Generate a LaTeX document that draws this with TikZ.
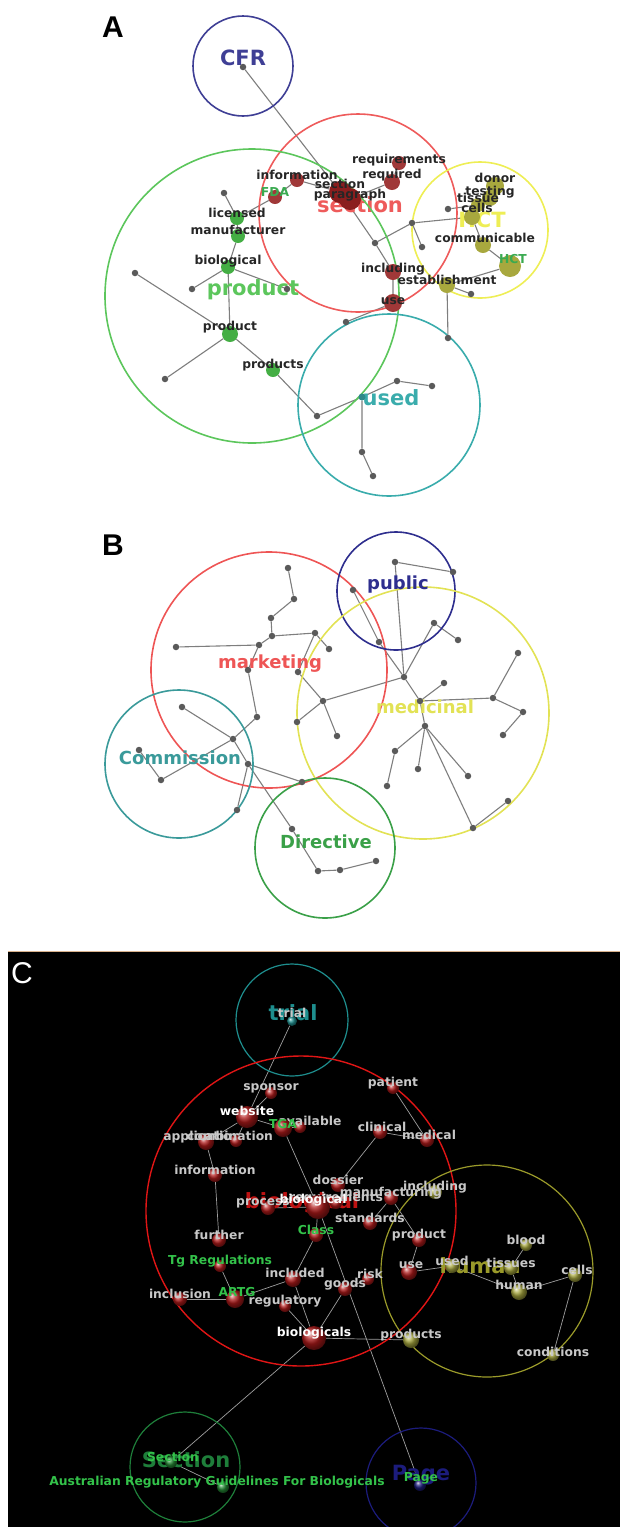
\documentclass[tikz,border=0pt]{standalone}
\usepackage{fontspec}
\setmainfont{DejaVu Sans}
\newfontfamily\panelfont{Liberation Sans}
\definecolor{cfrblue}{HTML}{3F3F95}
\definecolor{secred}{HTML}{EE5B5B}
\definecolor{prodgreen}{HTML}{5CC65C}
\definecolor{hctyellow}{HTML}{EEEE55}
\definecolor{usedteal}{HTML}{3AACAC}
\definecolor{dotgray}{HTML}{5A5A5A}
\definecolor{edgegray}{HTML}{7E7E7E}
\definecolor{ballred}{HTML}{A03838}
\definecolor{balldark}{HTML}{8A1E1E}
\definecolor{ballgreen}{HTML}{44AE44}
\definecolor{ballolive}{HTML}{A8A83E}
\definecolor{txtdark}{HTML}{262626}
\definecolor{fdagreen}{HTML}{3AAA50}
\definecolor{mktred}{HTML}{EE5555}
\definecolor{pubblue}{HTML}{2E2E8E}
\definecolor{medyellow}{HTML}{E2E255}
\definecolor{comteal}{HTML}{3A9A9A}
\definecolor{dirgreen}{HTML}{3AA048}
\definecolor{trialteal}{HTML}{1E8E8E}
\definecolor{biored}{HTML}{E01515}
\definecolor{humolive}{HTML}{9A9A2A}
\definecolor{secgreen}{HTML}{1E7E3A}
\definecolor{pageblue}{HTML}{1C1C7C}
\definecolor{ltgray}{HTML}{C8C8C8}
\definecolor{cgreen}{HTML}{33C24A}
\definecolor{cred}{HTML}{B01A1A}
\pgfdeclarelayer{back}
\pgfdeclarelayer{edges}
\pgfsetlayers{back,edges,main}
\begin{document}
\begin{tikzpicture}[x=1pt,y=-1pt,
  hoop/.style={circle,draw,line width=1.6pt,inner sep=0,minimum size=#1},
  gdot/.style={circle,fill=dotgray,inner sep=0,minimum size=6.5},
  blob/.style={circle,inner sep=0,minimum size=#1},
  link/.style={draw=edgegray,line width=1.1pt},
  linkc/.style={draw=gray!75,line width=0.7pt},
  lab/.style={font=\bfseries\fontsize{12.3}{13}\selectfont,text=txtdark,inner sep=0,yshift=5pt},
  labc/.style={lab,text=ltgray},
  labw/.style={lab,text=white},
  labg/.style={lab,text=cgreen},
  clus/.style={font=\bfseries\fontsize{21}{22}\selectfont,inner sep=0},
  clusb/.style={font=\bfseries\fontsize{18}{19}\selectfont,inner sep=0},
  panel/.style={font=\panelfont\bfseries\fontsize{30}{30}\selectfont,inner sep=0}]
\useasboundingbox (0,0) rectangle (620,1527);

% A
\node[panel] (pa) at (113,27) {A};
\node[hoop=100,draw=cfrblue] (cfrR) at (243,66) {};
\node[clus,text=cfrblue] (cfrL) at (243,58) {CFR};
\node[hoop=198,draw=secred] (secR) at (358,213) {};
\node[clus,text=secred] (secL) at (360,205) {section};
\node[hoop=294,draw=prodgreen] (prodR) at (252,296) {};
\node[clus,text=prodgreen] (prodL) at (253,290) {product};
\node[hoop=136,draw=hctyellow] (hctR) at (480,230) {};
\node[clus,text=hctyellow] (hctL) at (482,220) {HCT};
\node[hoop=182,draw=usedteal] (usedR) at (389,405) {};
\node[clus,text=usedteal] (usedL) at (391,398) {used};

\node[gdot] (cfr) at (243,67) {};
\node[gdot] (a1) at (224,193) {};
\node[gdot] (a2) at (135,273) {};
\node[gdot] (a3) at (192,289) {};
\node[gdot] (a4) at (287,289) {};
\node[gdot] (a5) at (165,379) {};
\node[gdot] (a6) at (317,416) {};
\node[gdot] (a7) at (397,381) {};
\node[gdot] (a8) at (432,386) {};
\node[gdot] (a9) at (362,452) {};
\node[gdot] (a10) at (373,476) {};
\node[gdot] (a11) at (375,243) {};
\node[gdot] (a12) at (346,322) {};
\node[gdot] (a13) at (412,223) {};
\node[gdot] (a14) at (422,247) {};
\node[gdot] (a15) at (448,209) {};
\node[gdot] (a16) at (471,294) {};
\node[gdot] (a17) at (448,338) {};
\node[blob=7,fill=usedteal!80!black] (usedn) at (362,397) {};

\node[blob=14,fill=ballred,label={[lab]center:information}] (info) at (297,180) {};
\node[blob=14,fill=ballred,label={[lab,text=fdagreen]center:FDA}] (fda) at (275,197) {};
\node[blob=22,fill=balldark,label={[lab,yshift=3pt]center:section}] (sect) at (340,192) {};
\node[blob=22,fill=balldark,label={[lab,yshift=-1pt]center:paragraph}] (para) at (350,199) {};
\node[blob=14,fill=ballred,label={[lab,yshift=-2pt]center:requirements}] (reqs) at (399,163) {};
\node[blob=16,fill=ballred,label={[lab,yshift=2pt]center:required}] (reqd) at (392,182) {};
\node[blob=14,fill=ballgreen,label={[lab]center:licensed}] (lic) at (237,218) {};
\node[blob=14,fill=ballgreen,label={[lab,yshift=1pt]center:manufacturer}] (man) at (238,236) {};
\node[blob=14,fill=ballgreen,label={[lab,yshift=1pt]center:biological}] (bio) at (228,267) {};
\node[blob=16,fill=ballgreen,label={[lab,yshift=2pt]center:product}] (prod) at (230,334) {};
\node[blob=14,fill=ballgreen,label={[lab]center:products}] (prods) at (273,370) {};
\node[blob=16,fill=ballred,label={[lab,yshift=-2pt]center:including}] (incl) at (393,272) {};
\node[blob=18,fill=ballred,label={[lab,yshift=-3pt]center:use}] (use) at (393,303) {};
\node[blob=18,fill=ballolive,label={[lab,yshift=3pt]center:donor}] (donor) at (495,186) {};
\node[blob=16,fill=ballolive,label={[lab,yshift=1pt]center:testing}] (test) at (490,198) {};
\node[blob=14,fill=ballolive,label={[lab,yshift=2pt]center:tissue}] (tis) at (478,205) {};
\node[blob=16,fill=ballolive,label={[lab,xshift=5pt,yshift=4pt]center:cells}] (cells) at (472,217) {};
\node[blob=16,fill=ballolive,label={[lab,xshift=2pt,yshift=2pt]center:communicable}] (comm) at (483,245) {};
\node[blob=22,fill=ballolive,label={[lab,text=fdagreen,xshift=3pt,yshift=2pt]center:HCT}] (hct) at (510,266) {};
\node[blob=16,fill=ballolive,label={[lab]center:establishment}] (estab) at (447,285) {};

\begin{pgfonlayer}{edges}
\draw[link] (cfr) -- (sect) -- (a11) -- (incl) -- (use) -- (a12);
\draw[link] (info) -- (sect) -- (para);
\draw[link] (info) -- (fda) -- (lic);
\draw[link] (a1) -- (lic) -- (man) -- (bio) -- (prod);
\draw[link] (bio) -- (a3);
\draw[link] (bio) -- (a4);
\draw[link] (a2) -- (prod) -- (a5);
\draw[link] (prod) -- (prods) -- (a6) -- (usedn) -- (a7) -- (a8);
\draw[link] (usedn) -- (a9) -- (a10);
\draw[link] (para) -- (reqd) -- (reqs);
\draw[link] (a11) -- (a13) -- (a14);
\draw[link] (a13) -- (cells);
\draw[link] (a15) -- (tis);
\draw[link] (donor) -- (test) -- (tis) -- (cells) -- (comm) -- (hct) -- (estab) -- (a16);
\draw[link] (estab) -- (a17);
\end{pgfonlayer}

% B
\node[panel] (pb) at (113,545) {B};
\node[hoop=236,draw=mktred] (mktR) at (269,670) {};
\node[hoop=118,draw=pubblue] (pubR) at (396,591) {};
\node[hoop=252,draw=medyellow] (medR) at (423,713) {};
\node[hoop=148,draw=comteal] (comR) at (179,764) {};
\node[hoop=140,draw=dirgreen] (dirR) at (325,848) {};
\node[clusb,text=mktred] (mktL) at (270,664) {marketing};
\node[clusb,text=pubblue] (pubL) at (398,585) {public};
\node[clusb,text=medyellow] (medL) at (425,707) {medicinal};
\node[clusb,text=comteal] (comL) at (180,758) {Commission};
\node[clusb,text=dirgreen] (dirL) at (326,842) {Directive};

\node[gdot] (b1) at (288,568) {};
\node[gdot] (b2) at (294,599) {};
\node[gdot] (b3) at (271,618) {};
\node[gdot] (b4) at (272,636) {};
\node[gdot] (b5) at (315,633) {};
\node[gdot] (b6) at (329,649) {};
\node[gdot] (b7) at (259,645) {};
\node[gdot] (b8) at (176,647) {};
\node[gdot] (b9) at (248,670) {};
\node[gdot] (b10) at (298,672) {};
\node[gdot] (b11) at (323,701) {};
\node[gdot] (b12) at (297,722) {};
\node[gdot] (b13) at (337,736) {};
\node[gdot] (b14) at (257,717) {};
\node[gdot] (b15) at (233,739) {};
\node[gdot] (b16) at (182,707) {};
\node[gdot] (b17) at (139,750) {};
\node[gdot] (b18) at (161,780) {};
\node[gdot] (b19) at (248,764) {};
\node[gdot] (b20) at (237,810) {};
\node[gdot] (b21) at (302,782) {};
\node[gdot] (b22) at (292,829) {};
\node[gdot] (b23) at (318,871) {};
\node[gdot] (b24) at (340,870) {};
\node[gdot] (b25) at (376,861) {};
\node[gdot] (b26) at (395,562) {};
\node[gdot] (b27) at (453,572) {};
\node[gdot] (b28) at (353,590) {};
\node[gdot] (b29) at (379,642) {};
\node[gdot] (b30) at (434,623) {};
\node[gdot] (b31) at (458,640) {};
\node[gdot] (b32) at (404,677) {};
\node[gdot] (b33) at (420,701) {};
\node[gdot] (b34) at (444,683) {};
\node[gdot] (b35) at (493,698) {};
\node[gdot] (b36) at (518,653) {};
\node[gdot] (b37) at (523,712) {};
\node[gdot] (b38) at (503,735) {};
\node[gdot] (b39) at (425,726) {};
\node[gdot] (b40) at (395,751) {};
\node[gdot] (b41) at (387,786) {};
\node[gdot] (b42) at (418,769) {};
\node[gdot] (b43) at (468,776) {};
\node[gdot] (b44) at (473,828) {};
\node[gdot] (b45) at (508,801) {};

\begin{pgfonlayer}{edges}
\draw[link] (b1) -- (b2) -- (b3) -- (b4) -- (b5) -- (b6);
\draw[link] (b4) -- (b7) -- (b8);
\draw[link] (b7) -- (b9) -- (b14) -- (b15) -- (b16);
\draw[link] (b17) -- (b18) -- (b15) -- (b19) -- (b20);
\draw[link] (b19) -- (b21);
\draw[link] (b19) -- (b22) -- (b23) -- (b24) -- (b25);
\draw[link] (b5) -- (b10) -- (b11) -- (b12);
\draw[link] (b11) -- (b13);
\draw[link] (b11) -- (b32);
\draw[link] (b28) -- (b29) -- (b32);
\draw[link] (b27) -- (b26) -- (b32);
\draw[link] (b31) -- (b30) -- (b32) -- (b33) -- (b34);
\draw[link] (b33) -- (b35) -- (b36);
\draw[link] (b35) -- (b37) -- (b38);
\draw[link] (b33) -- (b39) -- (b40) -- (b41);
\draw[link] (b39) -- (b42);
\draw[link] (b39) -- (b43);
\draw[link] (b39) -- (b44) -- (b45);
\end{pgfonlayer}

% C
\begin{pgfonlayer}{back}
\fill[black] (8,951) rectangle (620,1527);
\draw[brown!60,line width=1pt] (8,951) -- (620,951);
\end{pgfonlayer}
\node[panel,font=\panelfont\fontsize{30}{30}\selectfont,text=white] (pc) at (22,973) {C};
\begin{scope}
\clip (8,951) rectangle (620,1527);
\node[hoop=112,draw=trialteal,line width=1.2pt] (trialR) at (292,1020) {};
\node[hoop=310,draw=biored,line width=1.4pt] (bioR) at (301,1211) {};
\node[hoop=212,draw=humolive,line width=1.2pt] (humR) at (487,1271) {};
\node[hoop=110,draw=secgreen,line width=1.2pt] (secgR) at (185,1467) {};
\node[hoop=110,draw=pageblue,line width=1.2pt] (pageR) at (421,1483) {};
\end{scope}
\node[clus,text=trialteal] (trialL) at (293,1013) {trial};
\node[clus,text=biored!85!black] (bioL) at (302,1203) {biological};
\node[clus,text=humolive] (humL) at (480,1266) {human};
\node[clus,text=secgreen] (secgL) at (186,1460) {Section};
\node[clus,text=pageblue] (pageL) at (421,1475) {Page};

\node[blob=10,ball color=trialteal,label={[labc,yshift=3pt]center:trial}] (trialn) at (292,1021) {};
\node[blob=12,ball color=cred,label={[labc]center:sponsor}] (spon) at (271,1093) {};
\node[blob=12,ball color=cred,label={[labc]center:patient}] (pat) at (393,1088) {};
\node[blob=22,ball color=cred,label={[labw,yshift=1pt]center:website}] (web) at (247,1117) {};
\node[blob=12,ball color=cred,label={[labc,xshift=10pt,yshift=1pt]center:available}] (avail) at (300,1127) {};
\node[blob=18,ball color=cred,label={[labg,yshift=-1pt]center:TGA}] (tga) at (283,1128) {};
\node[blob=16,ball color=cred,label={[labc,xshift=-4pt]center:application}] (app) at (206,1142) {};
\node[blob=12,ball color=cred,label={[labc,xshift=-6pt]center:combination}] (comb) at (236,1141) {};
\node[blob=14,ball color=cred,label={[labc,xshift=2pt]center:clinical}] (clin) at (380,1132) {};
\node[blob=14,ball color=cred,label={[labc,xshift=2pt]center:medical}] (med) at (427,1140) {};
\node[blob=14,ball color=cred,label={[labc]center:information}] (inf) at (215,1175) {};
\node[blob=14,ball color=cred,label={[labc]center:dossier}] (dos) at (338,1185) {};
\node[blob=14,ball color=ballolive,label={[labc]center:including}] (incC) at (435,1192) {};
\node[blob=14,ball color=cred,label={[labc]center:manufacturing}] (manu) at (391,1198) {};
\node[blob=12,ball color=cred,label={[labc]center:requirements}] (req) at (336,1203) {};
\node[blob=14,ball color=cred,label={[labc,xshift=-5pt]center:process}] (proc) at (268,1208) {};
\node[blob=24,ball color=cred,label={[labw,xshift=-5pt,yshift=2pt]center:biological}] (biol) at (318,1207) {};
\node[blob=14,ball color=cred,label={[labc]center:standards}] (stan) at (370,1223) {};
\node[blob=14,ball color=cred,label={[labg]center:Class}] (cls) at (316,1235) {};
\node[blob=14,ball color=cred,label={[labc]center:further}] (fur) at (219,1240) {};
\node[blob=14,ball color=cred,label={[labc]center:product}] (prodC) at (419,1240) {};
\node[blob=12,ball color=ballolive,label={[labc]center:blood}] (blood) at (526,1245) {};
\node[blob=12,ball color=cred,label={[labg]center:Tg Regulations}] (tgr) at (220,1266) {};
\node[blob=16,ball color=cred,label={[labc,xshift=2pt,yshift=1pt]center:included}] (incd) at (293,1279) {};
\node[blob=12,ball color=cred,label={[labc,xshift=2pt]center:risk}] (risk) at (368,1279) {};
\node[blob=16,ball color=cred,label={[labc,xshift=2pt,yshift=2pt]center:use}] (useC) at (409,1272) {};
\node[blob=14,ball color=ballolive,label={[labc]center:used}] (usedC) at (452,1266) {};
\node[blob=14,ball color=ballolive,label={[labc]center:tissues}] (tiss) at (511,1268) {};
\node[blob=14,ball color=ballolive,label={[labc,xshift=2pt]center:cells}] (cellsC) at (575,1275) {};
\node[blob=14,ball color=cred,label={[labc]center:goods}] (goods) at (345,1289) {};
\node[blob=16,ball color=ballolive,label={[labc,yshift=2pt]center:human}] (human) at (519,1292) {};
\node[blob=14,ball color=cred,label={[labc]center:inclusion}] (inclu) at (180,1299) {};
\node[blob=18,ball color=cred,label={[labg,xshift=2pt,yshift=2pt]center:ARTG}] (artg) at (235,1299) {};
\node[blob=12,ball color=cred,label={[labc]center:regulatory}] (regu) at (285,1306) {};
\node[blob=24,ball color=cred,label={[labw]center:biologicals}] (biols) at (314,1338) {};
\node[blob=16,ball color=ballolive,label={[labc]center:products}] (prodsC) at (411,1340) {};
\node[blob=12,ball color=ballolive,label={[labc,yshift=-2pt]center:conditions}] (cond) at (553,1355) {};
\node[blob=12,ball color=cgreen!70!black,label={[labg,xshift=2pt]center:Section}] (sectn) at (171,1462) {};
\node[blob=12,ball color=cgreen!70!black,label={[labg,xshift=-6pt]center:Australian Regulatory Guidelines For Biologicals}] (argb) at (223,1487) {};
\node[blob=12,ball color=pageblue,label={[labg,xshift=1pt,yshift=2pt]center:Page}] (page) at (420,1485) {};

\begin{pgfonlayer}{edges}
\draw[linkc] (trialn) -- (web) -- (spon);
\draw[linkc] (app) -- (web) -- (tga) -- (avail);
\draw[linkc] (web) -- (comb);
\draw[linkc] (app) -- (inf) -- (fur);
\draw[linkc] (tga) -- (biol);
\draw[linkc] (pat) -- (med) -- (clin) -- (dos);
\draw[linkc] (proc) -- (biol) -- (cls) -- (incd) -- (artg) -- (tgr);
\draw[linkc] (artg) -- (inclu);
\draw[linkc] (incd) -- (biols);
\draw[linkc] (regu) -- (biols);
\draw[linkc] (risk) -- (goods) -- (biols);
\draw[linkc] (biol) -- (page);
\draw[linkc] (biols) -- (prodsC);
\draw[linkc] (biols) -- (sectn) -- (argb);
\draw[linkc] (stan) -- (manu) -- (prodC) -- (useC) -- (usedC) -- (human) -- (tiss) -- (blood);
\draw[linkc] (human) -- (cellsC) -- (cond);
\end{pgfonlayer}
\end{tikzpicture}
\end{document}
